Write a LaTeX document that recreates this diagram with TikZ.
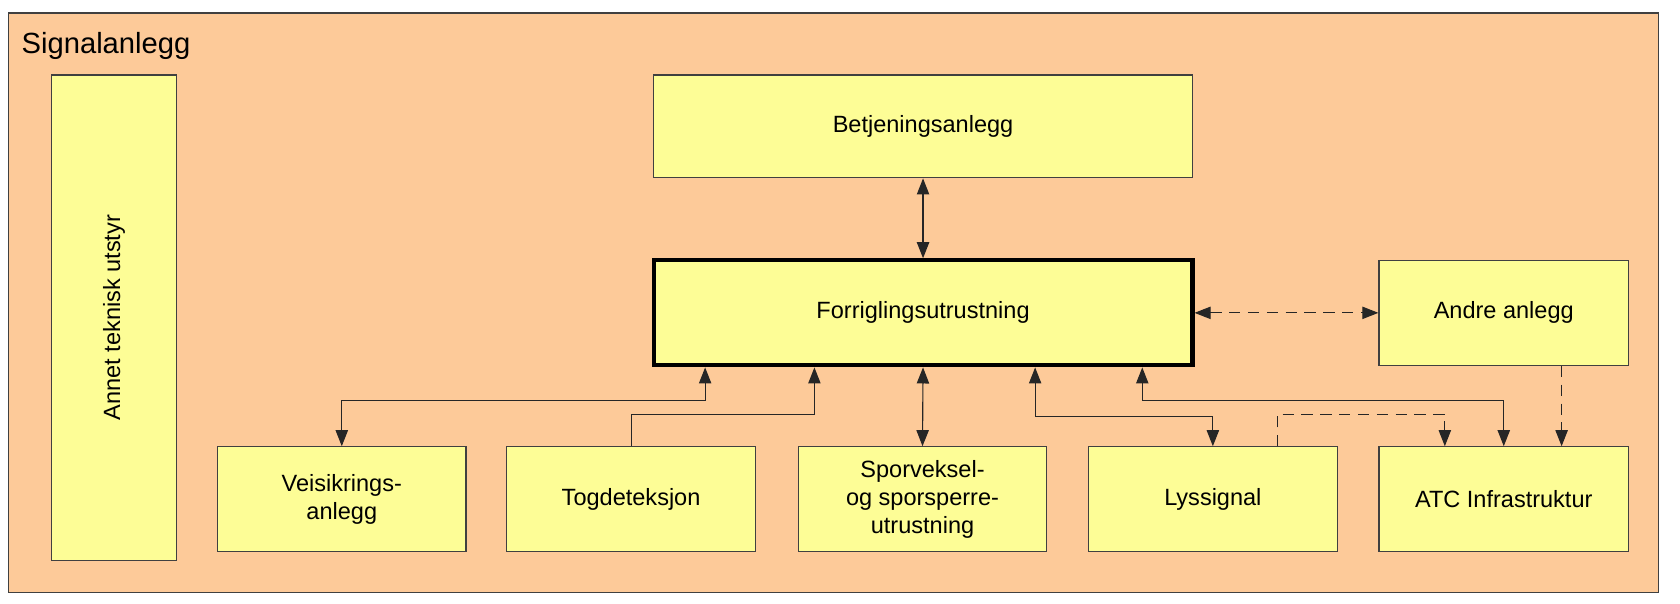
\documentclass[tikz,border=0pt]{standalone}
\usepackage{fontspec}
\setmainfont{Liberation Sans}
\usetikzlibrary{calc,arrows.meta}
\definecolor{peach}{HTML}{FDCA99}
\definecolor{pale}{HTML}{FDFD96}
\begin{document}
\begin{tikzpicture}[x=0.02cm,y=-0.02cm,
 box/.style={draw=black!75,fill=pale,line width=0.6pt,inner sep=0pt,align=center,font=\fontsize{12.5}{15}\selectfont},
 conn/.style={line width=0.6pt,black!85},
 longdash/.style={dash pattern=on 6pt off 4pt},
 tip/.style={-{Triangle[length=3mm,width=2.3mm]}},
 tips/.style={{Triangle[length=3mm,width=2.3mm]}-{Triangle[length=3mm,width=2.3mm]}}
 ]
 \useasboundingbox (0,0) rectangle (1568,563);
 \draw[fill=peach,draw=black!75,line width=0.8pt] (8,12) rectangle (1548,553);
 \node[anchor=west,font=\fontsize{15.5}{18}\selectfont] (title) at (14,43) {Signalanlegg};
 \node[box,minimum width=2.34cm,minimum height=9.06cm] (annet) at (106.5,296.5) {};
 \node[rotate=90,font=\fontsize{12.5}{15}\selectfont] (annettxt) at (annet.center) {Annet teknisk utstyr};
 \node[box,minimum width=10.06cm,minimum height=1.92cm] (betj) at (861.5,118) {Betjeningsanlegg};
 \node[box,line width=2.2pt,draw=black,minimum width=10.06cm,minimum height=1.96cm] (forr) at (861.5,292) {Forriglingsutrustning};
 \node[box,minimum width=4.66cm,minimum height=1.96cm] (andre) at (1403.5,292) {Andre anlegg};
 \node[box,minimum width=4.64cm,minimum height=1.96cm] (veis) at (319,466) {Veisikrings-\\anlegg};
 \node[box,minimum width=4.64cm,minimum height=1.96cm] (tog) at (589,466) {Togdeteksjon};
 \node[box,minimum width=4.64cm,minimum height=1.96cm] (sporv) at (861,466) {Sporveksel-\\og sporsperre-\\utrustning};
 \node[box,minimum width=4.64cm,minimum height=1.96cm] (lys) at (1132,466) {Lyssignal};
 \node[box,minimum width=4.66cm,minimum height=1.96cm] (atc) at (1403.5,466) {ATC Infrastruktur};
 % connectors
 \draw[conn,tips] (betj.south) -- (forr.north);
 \draw[conn,tips,longdash] (forr.east) -- (andre.west);
 \draw[conn,tips] ($(forr.south west)+(50,0)$) -- ++(0,31) -| (veis.north);
 \draw[conn,tip] (tog.north) -- ++(0,-30) -| ($(forr.south west)+(152,0)$);
 \draw[conn,tips] (forr.south) -- (sporv.north);
 \draw[conn,tips] ($(forr.south west)+(358,0)$) -- ++(0,46) -| (lys.north);
 \draw[conn,tips] ($(forr.south west)+(458,0)$) -- ++(0,31) -| (atc.north);
 \draw[conn,tip,longdash] ($(lys.north)+(60,0)$) -- ++(0,-30) -| ($(atc.north)+(-55,0)$);
 \draw[conn,tip,longdash] ($(andre.south)+(54,0)$) -- ($(atc.north)+(54,0)$);
\end{tikzpicture}
\end{document}
